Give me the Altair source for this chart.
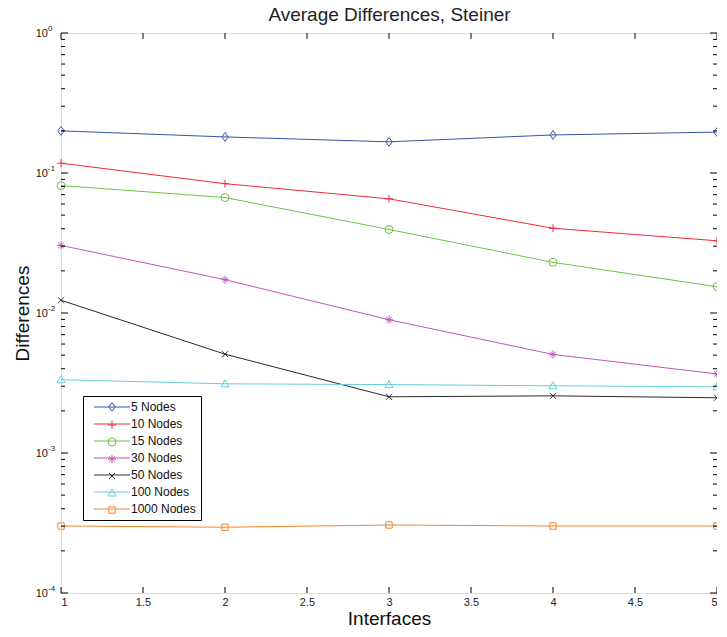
import altair as alt
import pandas as pd

# ---- data ----
interfaces = [1, 2, 3, 4, 5]
series_names = ["5 Nodes", "10 Nodes", "15 Nodes", "30 Nodes", "50 Nodes", "100 Nodes", "1000 Nodes"]
n5 = [0.200, 0.181, 0.167, 0.187, 0.196]
n10 = [0.1175, 0.0839, 0.0654, 0.0403, 0.0328]
n15 = [0.0813, 0.0668, 0.0395, 0.0230, 0.0154]
n30 = [0.0304, 0.0173, 0.00895, 0.00506, 0.00367]
n50 = [0.01233, 0.00508, 0.00252, 0.00256, 0.00248]
n100 = [0.00334, 0.00312, 0.00308, 0.00302, 0.00297]
n1000 = [0.000301, 0.000295, 0.000306, 0.000301, 0.000301]

x_ticks = [1, 1.5, 2, 2.5, 3, 3.5, 4, 4.5, 5]
y_major = [1e-4, 1e-3, 1e-2, 1e-1, 1]
y_exponents = ["-4", "-3", "-2", "-1", "0"]
y_minor = [m * d for d in [1e-4, 1e-3, 1e-2, 1e-1] for m in range(2, 10)]

# ---- styles ----
colors = ["#3552a6", "#f02a36", "#6cc04a", "#c257b6", "#2a2a2a", "#66cde0", "#f5832a"]
shapes = [
    "M0,-1.1L0.8,0L0,1.1L-0.8,0Z",                         # diamond
    "M-1,0H1M0,-1V1",                                      # plus
    "circle",                                              # circle
    "M-1,0H1M0,-1V1M-0.7,-0.7L0.7,0.7M-0.7,0.7L0.7,-0.7",  # asterisk
    "M-0.75,-0.75L0.75,0.75M-0.75,0.75L0.75,-0.75",        # x
    "M0,-1L1,0.75L-1,0.75Z",                               # triangle
    "M-0.8,-0.8H0.8V0.8H-0.8Z",                            # square
]
FONT = "Liberation Sans"
W, H = 656, 560
MSIZE = 64

rows = []
for name, vals in zip(series_names, [n5, n10, n15, n30, n50, n100, n1000]):
    for xv, yv in zip(interfaces, vals):
        rows.append({"Interfaces": xv, "Differences": yv, "series": name, "series2": name})
df = pd.DataFrame(rows)

xscale = alt.Scale(domain=[1, 5], nice=False, zero=False)
yscale = alt.Scale(type="log", domain=[1e-4, 1], nice=False)

legend_common = dict(
    orient="none", legendX=22, legendY=363, title=None,
    labelFont=FONT, labelFontSize=12, labelColor="#111",
    padding=5, rowPadding=5, symbolSize=MSIZE, symbolOffset=18, labelOffset=13,
)

# lines: stroke channel (legend drawn as line segments)
lines = alt.Chart(df).mark_line(strokeWidth=1, clip=False).encode(
    x=alt.X("Interfaces:Q", scale=xscale,
            axis=alt.Axis(values=x_ticks, format="~g", ticks=False, domain=False, grid=False,
                          labelFont=FONT, labelFontSize=11, labelColor="#222", labelPadding=3,
                          title="Interfaces", titleFont=FONT, titleFontSize=19,
                          titleFontWeight="normal", titleColor="#111",
                          titleBaseline="alphabetic", titleY=31)),
    y=alt.Y("Differences:Q", scale=yscale,
            axis=alt.Axis(labels=False, ticks=False, domain=False, grid=False,
                          title="Differences", titleFont=FONT, titleFontSize=19,
                          titleFontWeight="normal", titleColor="#111", titlePadding=29)),
    stroke=alt.Stroke("series2:N", sort=series_names, scale=alt.Scale(range=colors),
                      legend=alt.Legend(symbolType="M-4.5,0H4.5", symbolStrokeWidth=1,
                                        strokeColor="#000", **legend_common)),
)

# markers: color + shape (merged legend, markers only, labels hidden under the line legend's)
pt_legend = alt.Legend(symbolStrokeWidth=1, symbolFillColor="transparent",
                       labelOpacity=0, **legend_common)
points = alt.Chart(df).mark_point(size=MSIZE, strokeWidth=1, filled=False, opacity=1, clip=False).encode(
    x=alt.X("Interfaces:Q", scale=xscale, axis=None),
    y=alt.Y("Differences:Q", scale=yscale),
    color=alt.Color("series:N", scale=alt.Scale(domain=series_names, range=colors), legend=pt_legend),
    shape=alt.Shape("series:N", scale=alt.Scale(domain=series_names, range=shapes), legend=pt_legend),
)

# inward ticks (box style)
xt = pd.DataFrame({"v": x_ticks})
xt_bottom = alt.Chart(xt).mark_rule(color="#000", strokeWidth=1).encode(
    x=alt.X("v:Q", scale=xscale, axis=None), y=alt.value(H), y2=alt.value(H - 6))
xt_top = alt.Chart(xt).mark_rule(color="#000", strokeWidth=1).encode(
    x=alt.X("v:Q", scale=xscale,
            axis=alt.Axis(orient="top", labels=False, ticks=False, domain=False, grid=False,
                          title="Average Differences, Steiner", titleFont=FONT, titleFontSize=19,
                          titleFontWeight="normal", titleColor="#222",
                          titleBaseline="alphabetic", titleY=-13)),
    y=alt.value(0), y2=alt.value(6))

ymaj = pd.DataFrame({"v": y_major, "exp": y_exponents, "base": ["10"] * len(y_major)})
ymin = pd.DataFrame({"v": y_minor})
yt_left = alt.Chart(ymaj).mark_rule(color="#000", strokeWidth=1).encode(
    y=alt.Y("v:Q", scale=yscale), x=alt.value(0), x2=alt.value(7))
yt_right = alt.Chart(ymaj).mark_rule(color="#000", strokeWidth=1).encode(
    y=alt.Y("v:Q", scale=yscale), x=alt.value(W), x2=alt.value(W - 7))
ym_left = alt.Chart(ymin).mark_rule(color="#000", strokeWidth=1).encode(
    y=alt.Y("v:Q", scale=yscale), x=alt.value(0), x2=alt.value(4))
ym_right = alt.Chart(ymin).mark_rule(color="#000", strokeWidth=1).encode(
    y=alt.Y("v:Q", scale=yscale), x=alt.value(W), x2=alt.value(W - 4))

base_lbl = alt.Chart(ymaj).mark_text(font=FONT, fontSize=11, align="right", baseline="middle",
                                     color="#222", dy=1).encode(
    y=alt.Y("v:Q", scale=yscale), x=alt.value(-13), text="base:N")
exp_lbl = alt.Chart(ymaj).mark_text(font=FONT, fontSize=8, align="left", baseline="middle",
                                    color="#222", dy=-4).encode(
    y=alt.Y("v:Q", scale=yscale), x=alt.value(-13), text="exp:N")

chart = alt.layer(
    lines, points, xt_bottom, xt_top, yt_left, yt_right, ym_left, ym_right, base_lbl, exp_lbl
).resolve_axis(x="independent").properties(
    width=W, height=H,
    autosize=alt.AutoSizeParams(type="none"),
    padding={"left": 53, "top": 25, "right": 0, "bottom": 33},
).configure_view(stroke="#000", strokeWidth=1).configure(background="white")

chart.save("out.html", embed_options={"renderer": "svg", "actions": False})
